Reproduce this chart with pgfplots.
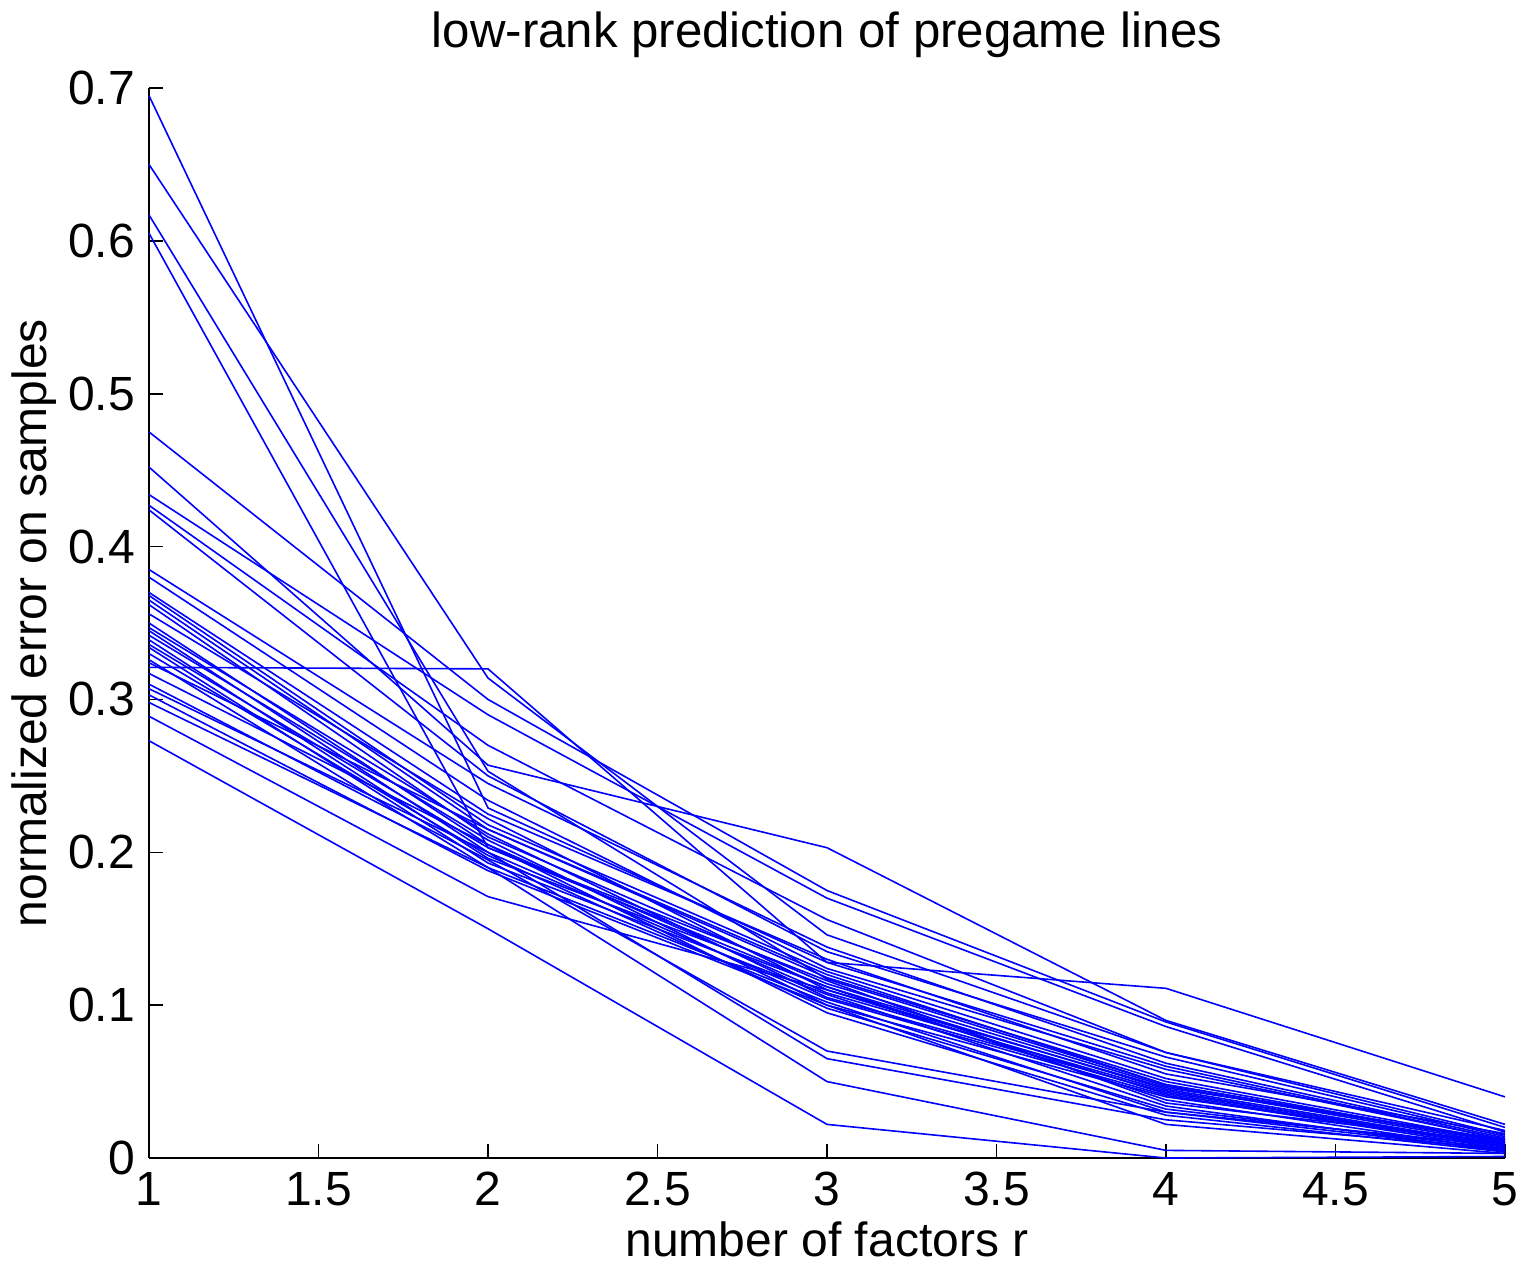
\documentclass[border=0pt]{standalone}
\usepackage{pgfplots}
\pgfplotsset{compat=1.18}
\usepackage{fontspec}
\setmainfont{Liberation Sans}
\usetikzlibrary{calc}
\definecolor{mblue}{RGB}{0,0,255}
\pgfplotsset{ml/.style={mblue, line width=0.4pt, mark=none, solid}}
\begin{document}
\begin{tikzpicture}
\begin{axis}[
  name=ax,
  scale only axis,
  width=339pt, height=267.5pt,
  xmin=1, xmax=5, ymin=0, ymax=0.7,
  axis x line=bottom, axis y line=left,
  axis line style={-, black, line width=0.4pt},
  tick align=inside,
  major tick length=3.5pt,
  tick style={black, line width=0.4pt},
  xtick={1,1.5,...,5},
  ytick={0,0.1,...,0.7},
  yticklabels={0,0.1,0.2,0.3,0.4,0.5,0.6,0.7},
  xticklabels={1,1.5,2,2.5,3,3.5,4,4.5,5},
  ticklabel style={font=\fontsize{12}{14}\selectfont},
  /pgf/number format/assume math mode=true,
  xlabel={number of factors r},
  ylabel={normalized error on samples},
  label style={font=\fontsize{12}{14}\selectfont},
  xlabel style={yshift=3pt},
  ylabel style={yshift=-4pt},
  title={low-rank prediction of pregame lines},
  title style={font=\fontsize{12.3}{14}\selectfont, yshift=-2pt},
  clip=false,
]
\addplot[ml] coordinates {(1,0.695) (2,0.229) (3,0.128) (4,0.060) (5,0.012)};
\addplot[ml] coordinates {(1,0.650) (2,0.314) (3,0.146) (4,0.069) (5,0.018)};
\addplot[ml] coordinates {(1,0.617) (2,0.253) (3,0.117) (4,0.048) (5,0.010)};
\addplot[ml] coordinates {(1,0.605) (2,0.203) (3,0.112) (4,0.045) (5,0.008)};
\addplot[ml] coordinates {(1,0.475) (2,0.300) (3,0.175) (4,0.089) (5,0.020)};
\addplot[ml] coordinates {(1,0.452) (2,0.257) (3,0.203) (4,0.090) (5,0.022)};
\addplot[ml] coordinates {(1,0.434) (2,0.290) (3,0.170) (4,0.086) (5,0.017)};
\addplot[ml] coordinates {(1,0.427) (2,0.270) (3,0.156) (4,0.069) (5,0.015)};
\addplot[ml] coordinates {(1,0.424) (2,0.250) (3,0.135) (4,0.066) (5,0.014)};
\addplot[ml] coordinates {(1,0.385) (2,0.245) (3,0.138) (4,0.062) (5,0.013)};
\addplot[ml] coordinates {(1,0.380) (2,0.234) (3,0.124) (4,0.058) (5,0.012)};
\addplot[ml] coordinates {(1,0.370) (2,0.225) (3,0.130) (4,0.055) (5,0.016)};
\addplot[ml] coordinates {(1,0.368) (2,0.218) (3,0.122) (4,0.052) (5,0.011)};
\addplot[ml] coordinates {(1,0.365) (2,0.215) (3,0.118) (4,0.050) (5,0.010)};
\addplot[ml] coordinates {(1,0.362) (2,0.210) (3,0.114) (4,0.047) (5,0.009)};
\addplot[ml] coordinates {(1,0.356) (2,0.222) (3,0.110) (4,0.046) (5,0.012)};
\addplot[ml] coordinates {(1,0.350) (2,0.205) (3,0.108) (4,0.044) (5,0.007)};
\addplot[ml] coordinates {(1,0.347) (2,0.212) (3,0.105) (4,0.043) (5,0.008)};
\addplot[ml] coordinates {(1,0.345) (2,0.200) (3,0.104) (4,0.041) (5,0.006)};
\addplot[ml] coordinates {(1,0.342) (2,0.208) (3,0.100) (4,0.040) (5,0.009)};
\addplot[ml] coordinates {(1,0.339) (2,0.196) (3,0.112) (4,0.038) (5,0.005)};
\addplot[ml] coordinates {(1,0.336) (2,0.203) (3,0.116) (4,0.036) (5,0.010)};
\addplot[ml] coordinates {(1,0.334) (2,0.193) (3,0.107) (4,0.034) (5,0.004)};
\addplot[ml] coordinates {(1,0.330) (2,0.198) (3,0.098) (4,0.032) (5,0.006)};
\addplot[ml] coordinates {(1,0.326) (2,0.190) (3,0.102) (4,0.030) (5,0.005)};
\addplot[ml] coordinates {(1,0.324) (2,0.215) (3,0.120) (4,0.048) (5,0.011)};
\addplot[ml] coordinates {(1,0.321) (2,0.320) (3,0.128) (4,0.111) (5,0.040)};
\addplot[ml] coordinates {(1,0.317) (2,0.205) (3,0.095) (4,0.028) (5,0.004)};
\addplot[ml] coordinates {(1,0.310) (2,0.195) (3,0.070) (4,0.030) (5,0.008)};
\addplot[ml] coordinates {(1,0.307) (2,0.200) (3,0.065) (4,0.025) (5,0.006)};
\addplot[ml] coordinates {(1,0.303) (2,0.188) (3,0.100) (4,0.022) (5,0.003)};
\addplot[ml] coordinates {(1,0.298) (2,0.190) (3,0.050) (4,0.005) (5,0.003)};
\addplot[ml] coordinates {(1,0.289) (2,0.171) (3,0.110) (4,0.042) (5,0.007)};
\addplot[ml] coordinates {(1,0.273) (2,0.150) (3,0.022) (4,0.000) (5,0.001)};
\end{axis}
\pgfresetboundingbox
\path ($(ax.south west)+(-37.25pt,-26.5pt)$) rectangle ($(ax.north east)+(4.75pt,22pt)$);
\end{tikzpicture}
\end{document}
